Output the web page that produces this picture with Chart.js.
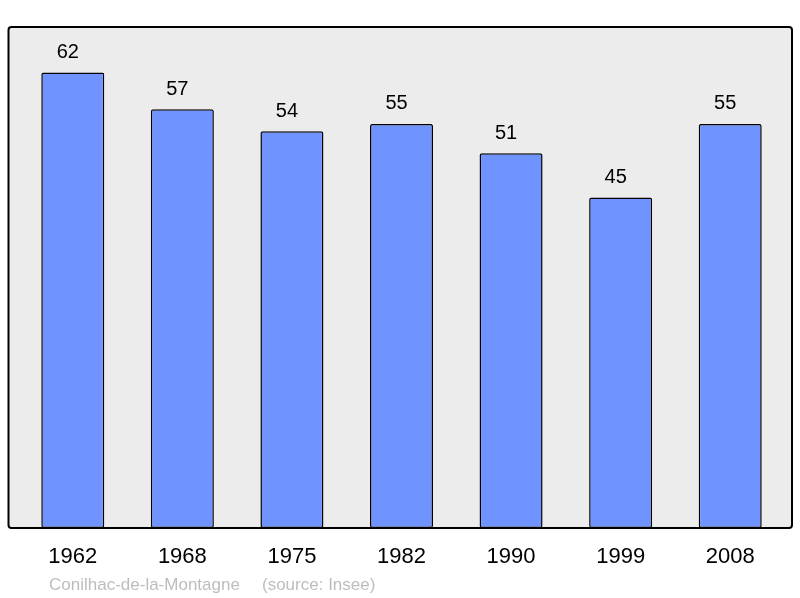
<!DOCTYPE html>
<html>
<head>
<meta charset="utf-8">
<script src="https://cdn.jsdelivr.net/npm/chart.js@4/dist/chart.umd.min.js"></script>
<style>
  html, body { margin: 0; padding: 0; background: #fff; }
  #wrap { width: 800px; height: 598px; }
</style>
</head>
<body>
<div id="wrap"><canvas id="popChart" width="800" height="598"></canvas></div>
<script>
// Population data (Insee)
const years = ['1962', '1968', '1975', '1982', '1990', '1999', '2008'];
const population = [62, 57, 54, 55, 51, 45, 55];
const place = 'Conilhac-de-la-Montagne';
const source = '(source: Insee)';

const FONT = "'Liberation Sans', Arial, sans-serif";

// grey frame behind the bars
const framePlugin = {
  id: 'frame',
  beforeDatasetsDraw(chart) {
    const {ctx, chartArea: a} = chart;
    const x0 = a.left - 9.5, y0 = a.top, x1 = a.right + 7, y1 = a.bottom;
    ctx.save();
    ctx.beginPath();
    ctx.roundRect(x0, y0, x1 - x0, y1 - y0, 3);
    ctx.fillStyle = '#ececec';
    ctx.fill();
    ctx.restore();
  },
  afterDatasetsDraw(chart) {
    const {ctx, chartArea: a} = chart;
    const x0 = a.left - 9.5, y0 = a.top, x1 = a.right + 7, y1 = a.bottom;
    ctx.save();
    ctx.beginPath();
    ctx.roundRect(x0, y0, x1 - x0, y1 - y0, 3);
    ctx.lineWidth = 2;
    ctx.strokeStyle = '#000';
    ctx.stroke();
    // values above bars (slightly left of centre, as in the original)
    ctx.font = '20px ' + FONT;
    ctx.fillStyle = '#000';
    ctx.textAlign = 'center';
    ctx.textBaseline = 'middle';
    chart.getDatasetMeta(0).data.forEach((bar, i) => {
      ctx.fillText(String(population[i]), bar.x - 5, bar.y - 20);
    });
    // source line
    ctx.font = '17px ' + FONT;
    ctx.fillStyle = '#bdbdbd';
    ctx.textAlign = 'left';
    ctx.fillText(place, 49, 585);
    ctx.fillText(source, 262, 585);
    ctx.restore();
  }
};

new Chart(document.getElementById('popChart'), {
  type: 'bar',
  data: {
    labels: years,
    datasets: [{
      data: population,
      backgroundColor: 'rgb(112,148,255)',
      borderColor: '#000',
      borderWidth: 1.5,
      borderRadius: 2,
      borderSkipped: false,
      categoryPercentage: 1,
      barPercentage: 0.575
    }]
  },
  options: {
    responsive: false,
    animation: false,
    layout: { padding: { left: 18, right: 15, top: 27, bottom: 0 } },
    plugins: { legend: { display: false }, tooltip: { enabled: false } },
    scales: {
      x: {
        grid: { display: false, drawTicks: false },
        border: { display: false },
        ticks: { color: '#000', font: { family: FONT, size: 22 }, padding: 16 },
        afterFit(scale) { scale.height = 70; }
      },
      y: {
        display: false,
        min: 0,
        max: 68.2
      }
    }
  },
  plugins: [framePlugin]
});
</script>
</body>
</html>
